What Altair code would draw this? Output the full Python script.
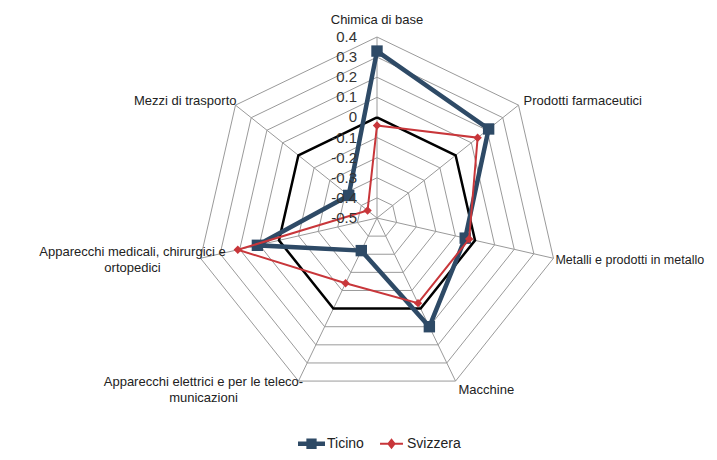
import altair as alt
import pandas as pd

categories = [
    "Chimica di base",
    "Prodotti farmaceutici",
    "Metalli e prodotti in metallo",
    "Macchine",
    "Apparecchi elettrici e per le teleco-\nmunicazioni",
    "Apparecchi medicali, chirurgici e\nortopedici",
    "Mezzi di trasporto",
]
ticino = [0.33, 0.21, -0.05, 0.10, -0.32, 0.11, -0.32]
svizzera = [-0.04, 0.14, -0.03, -0.03, -0.14, 0.21, -0.44]
zero_line = [0, 0, 0, 0, 0, 0, 0]
series = ["Ticino", "Svizzera"]
ticks = [0.4, 0.3, 0.2, 0.1, 0.0, -0.1, -0.2, -0.3, -0.4, -0.5]
tick_labels = ["0.4", "0.3", "0.2", "0.1", "0", "-0.1", "-0.2", "-0.3", "-0.4", "-0.5"]

RMIN, RMAX = -0.5, 0.4
N = len(categories)
FONT = "Liberation Sans"
C_TI = "#2E4A66"
C_SV = "#C8363A"

# label placement (presentation only)
label_style = [
    dict(align="center", dx=0, dy=-17, size=13),
    dict(align="left", dx=5, dy=-4, size=13),
    dict(align="left", dx=2, dy=2, size=12.5),
    dict(align="left", dx=3, dy=9, size=13),
    dict(align="center", dx=-95, dy=1, size=13),
    dict(align="center", dx=-68, dy=-6, size=13),
    dict(align="right", dx=1, dy=-4, size=13),
]


def polygon_rows(name, values):
    rows = [{"series": name, "idx": i, "value": v} for i, v in enumerate(values)]
    rows.append({"series": name, "idx": N, "value": values[0]})
    return rows


rings = []
for t in ticks[:-1]:
    rings += polygon_rows("r%.1f" % t, [t] * N)
rings_df = pd.DataFrame(rings)

spokes_df = pd.DataFrame({"idx": list(range(N)), "value": [RMAX] * N})
zero_df = pd.DataFrame(polygon_rows("zero", zero_line))
data_df = pd.DataFrame(polygon_rows("Ticino", ticino) + polygon_rows("Svizzera", svizzera))
labels_df = pd.DataFrame({"idx": list(range(N)), "value": [RMAX] * N, "cat": categories})
ticks_df = pd.DataFrame({"idx": [0] * len(ticks), "value": ticks, "lab": tick_labels})

xs = alt.Scale(domain=[-1, 1], nice=False, zero=False)
ys = alt.Scale(domain=[-1, 1], nice=False, zero=False)


def polar(ch):
    return ch.transform_calculate(
        r=f"(datum.value - ({RMIN})) / ({RMAX - RMIN})",
        a=f"datum.idx * 2 * PI / {N}",
    ).transform_calculate(
        px="datum.r * sin(datum.a)",
        py="datum.r * cos(datum.a)",
    )


X = alt.X("px:Q", scale=xs, axis=None)
Y = alt.Y("py:Q", scale=ys, axis=None)

grid = polar(alt.Chart(rings_df)).mark_line(color="#9a9a9a", strokeWidth=1).encode(
    x=X, y=Y, detail="series:N", order="idx:Q"
)
spokes = polar(alt.Chart(spokes_df)).transform_calculate(z="0").mark_rule(
    color="#9a9a9a", strokeWidth=1
).encode(x=X, y=Y, x2="z:Q", y2="z:Q")

zero = polar(alt.Chart(zero_df)).mark_line(color="#000000", strokeWidth=2.5).encode(
    x=X, y=Y, order="idx:Q"
)

ti = polar(alt.Chart(data_df)).transform_filter("datum.series == 'Ticino'")
sv = polar(alt.Chart(data_df)).transform_filter("datum.series == 'Svizzera'")

ti_line = ti.mark_line(color=C_TI, strokeWidth=4.5).encode(x=X, y=Y, order="idx:Q")
ti_pts = ti.transform_filter(f"datum.idx < {N}").mark_point(
    shape="square", filled=True, color=C_TI, size=130, opacity=1
).encode(x=X, y=Y)
sv_line = sv.mark_line(color=C_SV, strokeWidth=2).encode(x=X, y=Y, order="idx:Q")
sv_pts = sv.transform_filter(f"datum.idx < {N}").mark_point(
    shape="diamond", filled=True, color=C_SV, size=70, opacity=1
).encode(x=X, y=Y)

path_ti = "M-1,-0.16H1V0.16H-1Z M-0.38,-0.38H0.38V0.38H-0.38Z"
path_sv = "M-0.85,-0.075H0.85V0.075H-0.85Z M0,-0.4L0.32,0L0,0.4L-0.32,0Z"

leg = alt.Legend(title=None, orient="none", direction="horizontal",
                 legendX=102, legendY=393, symbolOpacity=1)

legend_layer = polar(alt.Chart(data_df)).transform_filter(f"datum.idx < {N}").mark_point(
    filled=True, opacity=0
).encode(
    x=X,
    y=Y,
    color=alt.Color("series:N", scale=alt.Scale(domain=series, range=[C_TI, C_SV]), legend=leg),
    shape=alt.Shape("series:N", scale=alt.Scale(domain=series, range=[path_ti, path_sv]), legend=leg),
)

label_layers = []
for i, st in enumerate(label_style):
    label_layers.append(
        polar(alt.Chart(labels_df)).transform_filter(f"datum.idx == {i}").mark_text(
            align=st["align"], dx=st["dx"], dy=st["dy"], baseline="middle",
            font=FONT, fontSize=st["size"], color="#222222", lineBreak="\n", lineHeight=16,
        ).encode(x=X, y=Y, text="cat:N")
    )

tick_text = polar(alt.Chart(ticks_df)).mark_text(
    align="right", baseline="middle", dx=-20, font=FONT, fontSize=15, color="#333333"
).encode(x=X, y=Y, text="lab:N")

chart = alt.layer(
    grid, spokes, zero, ti_line, ti_pts, sv_line, sv_pts, legend_layer, *label_layers, tick_text
).properties(
    width=362,
    height=362,
    padding={"left": 188, "top": 29, "right": 151, "bottom": 53},
    autosize=alt.AutoSizeParams(type="none"),
    background="white",
).configure_view(stroke=None).configure_legend(
    labelFont=FONT, labelFontSize=14, labelColor="#222222", symbolSize=729,
    symbolStrokeWidth=0, columnPadding=14, labelOffset=2, padding=0,
)

chart.save("out.html", embed_options={"renderer": "svg", "actions": False})
